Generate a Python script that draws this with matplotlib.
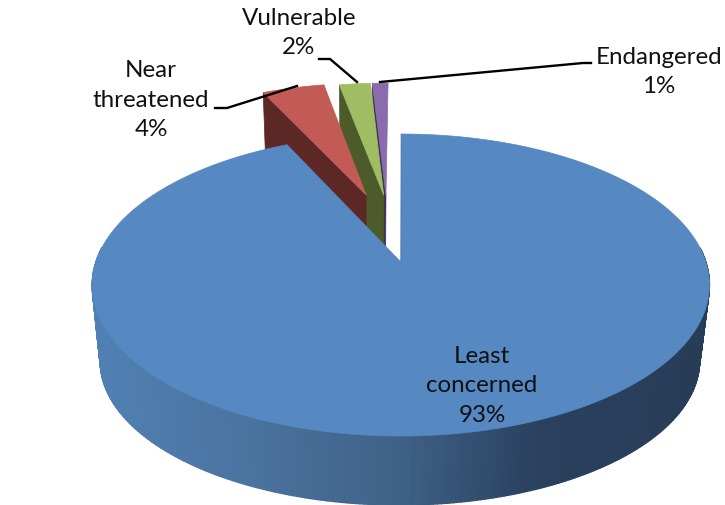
import numpy as np
import matplotlib
matplotlib.use("Agg")
import matplotlib.pyplot as plt
from matplotlib.collections import PolyCollection
from matplotlib.colors import LinearSegmentedColormap

plt.rcParams["font.family"] = ["Lato", "DejaVu Sans"]

categories = ["Least\nconcerned", "Near\nthreatened", "Vulnerable", "Endangered"]
shares = [93, 4, 2, 1]

top_colors = ["#5688C1", "#C25B56", "#A0BD63", "#8A6BAE"]
wall_colors = ["#3B5C80", "#5C2725", "#4D5B2B", "#3F3150"]
# how far each slice is pulled out of the pie, in disc units
explode = [(-0.007, 0.0), (-0.13, 0.488), (-0.068, 0.488), (-0.06, 0.488)]

# perspective of the disc
cx, cy = 403, 263
rx, ry, k = 305, 147.5, 0.1525


def top_xy(u, v):
    w = 1 + k * v
    return cx + rx * u / w, cy - ry * v / w


def bottom_xy(u, v):
    x, y = top_xy(u, v)
    return 402 + (x - cx) * 0.971, 286 + (y - 286) * 0.955 + 75.8


def rim(theta, off):
    t = np.radians(theta)
    return off[0] + np.sin(t), off[1] + np.cos(t)


fig = plt.figure(figsize=(7.25, 5.06), dpi=100)
ax = fig.add_axes([0, 0, 1, 1])
ax.set_xlim(0, 725)
ax.set_ylim(506, 0)
ax.axis("off")

# slice angles, clockwise from 12 o'clock
edges = np.cumsum([0] + [s * 3.6 for s in shares])
starts, ends = edges[:-1], edges[1:]

# small slices: inner wall, then top face (back ones first)
for i in [3, 2, 1]:
    off = explode[i]
    a = top_xy(*off)
    a_low = bottom_xy(*off)
    e = top_xy(*rim(starts[i], off))
    e_low = bottom_xy(*rim(starts[i], off))
    ax.fill([a[0], e[0], e_low[0], a_low[0]], [a[1], e[1], e_low[1], a_low[1]],
            color=wall_colors[i], lw=0.5, zorder=i * -1 + 5)
    thetas = np.linspace(starts[i], ends[i], 20)
    px, py = top_xy(*rim(thetas, off))
    ax.fill(np.r_[a[0], px], np.r_[a[1], py], color=top_colors[i], lw=0.5, zorder=i * -1 + 5)

# big slice, side first with a left to right shading
shade = LinearSegmentedColormap.from_list(
    "side", [(0, "#5080B3"), (0.25, "#4A739F"), (0.5, "#3F6186"), (0.72, "#2A415F"), (1, "#273C56")])
off = explode[0]
thetas = np.linspace(starts[0], ends[0], 500)
tx, ty = top_xy(*rim(thetas, off))
bx, by = bottom_xy(*rim(thetas, off))
quads = []
cols = []
for j in range(len(thetas) - 1):
    # only the front of the rim shows
    if np.cos(np.radians(thetas[j])) > 0.1:
        continue
    quads.append([(tx[j], ty[j]), (tx[j + 1], ty[j + 1]), (bx[j + 1], by[j + 1]), (bx[j], by[j])])
    cols.append(shade((tx[j] - 94) / (712 - 94)))
ax.add_collection(PolyCollection(quads, facecolors=cols, edgecolors=cols, linewidths=1.0, zorder=6))

a = top_xy(*off)
ax.fill(np.r_[a[0], tx], np.r_[a[1], ty], color=top_colors[0], lw=0.5, zorder=7)
ax.plot([a[0], tx[0]], [a[1], ty[0]], color=wall_colors[0], lw=0.5, alpha=0.5, zorder=8)

# leader lines
leaders = [
    ([215, 227, 297], [109, 109, 87]),
    ([319, 330, 357], [60, 60, 83]),
    ([380, 583, 591], [83, 64, 64]),
]
for lx, ly in leaders:
    ax.plot(lx, ly, color="black", lw=1.7, zorder=9, solid_joinstyle="miter")

# labels
labels = [f"{c}\n{s}%" for c, s in zip(categories, shares)]
label_pos = [(482, 386), (151, 100), (299, 33), (659, 72)]
for t, (lx, ly) in zip(labels, label_pos):
    ax.text(lx, ly, t, ha="center", va="center", fontsize=17.4, color="#111111",
            linespacing=1.5, zorder=10)

plt.savefig("out.png", dpi=100)
